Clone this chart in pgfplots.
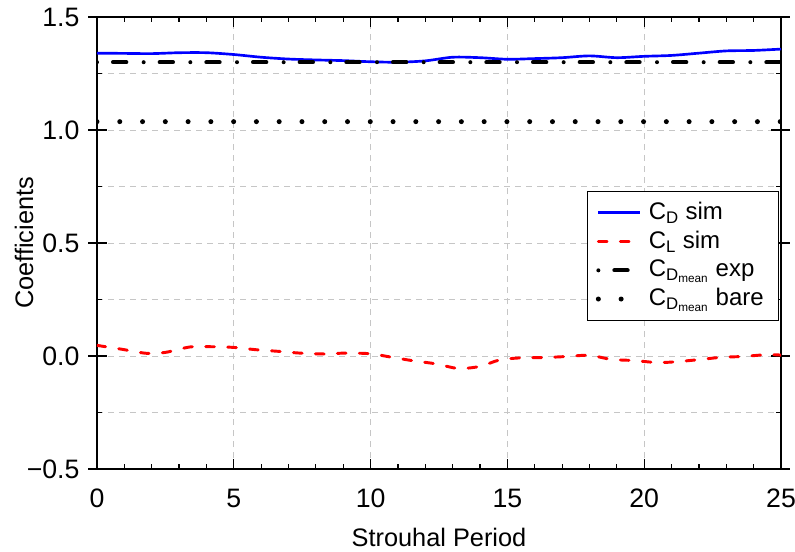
\documentclass[border=0pt]{standalone}
\usepackage{fontspec}
\setmainfont{Liberation Sans}
\usepackage{pgfplots}
\pgfplotsset{compat=1.18}
\begin{document}
\fontsize{18}{21}\selectfont
\begin{tikzpicture}
\useasboundingbox (-72.75pt,-61.5pt) rectangle (523.5pt,351.75pt);
\begin{axis}[
  at={(0,0)}, anchor=south west,
  scale only axis, width=513pt, height=339pt,
  xmin=0, xmax=25, ymin=-0.5, ymax=1.5,
  xtick={0,5,...,25}, minor x tick num=4,
  ytick={-0.5,0,0.5,1,1.5}, yticklabels={−0.5,0.0,0.5,1.0,1.5},
  minor y tick num=1,
  tick align=inside, major tick length=7.5pt, minor tick length=3.75pt,
  tick style={black, line width=0.9pt},
  extra y ticks={-0.5,0,0.5,1,1.5}, extra y tick labels={},
  extra y tick style={tick align=outside, major tick length=6.5pt, ymajorgrids=false},
  axis line style={line width=1.3pt},
  xmajorgrids, ymajorgrids, yminorgrids,
  grid style={gray!45, line width=0.75pt, dash pattern=on 4.5pt off 3.75pt},
  minor grid style={gray!45, line width=0.75pt, dash pattern=on 4.5pt off 3.75pt},
  /pgf/number format/assume math mode=true,
  tick label style={font=\fontsize{20}{23}\selectfont},
  xticklabel style={inner sep=0pt, anchor=center, yshift=-22pt},
  yticklabel style={inner sep=0pt, anchor=east, xshift=-13pt},
  label style={font=\fontsize{19}{22}\selectfont},
  xlabel={Strouhal Period},
  ylabel={Coefficients},
  xlabel style={at={(axis description cs:0.5,-0.1704)}, anchor=base, inner sep=0pt},
  ylabel style={at={(axis description cs:-0.1067,0.5)}, anchor=center, inner sep=0pt},
  legend style={at={(0.997,0.615)}, anchor=north east, draw=black, line width=0.75pt,
    font=\fontsize{18}{20}\selectfont, inner xsep=6pt, inner ysep=6pt, row sep=2pt,
    nodes={inner xsep=5pt}},
  legend cell align=left,
  legend image code/.code={\draw[#1] (0pt,0pt) -- (31pt,0pt);},
]
\addplot[blue, line width=2pt, smooth] coordinates {
(0,1.340) (1,1.339) (2,1.338) (3,1.342) (4,1.342) (5,1.334) (6,1.322) (7,1.314)
(8,1.310) (9,1.307) (10,1.302) (11,1.300) (12,1.306) (13,1.322) (14,1.320) (15,1.313)
(16,1.316) (17,1.320) (18,1.328) (19,1.320) (20,1.326) (21,1.330) (22,1.340) (23,1.350)
(24,1.352) (25,1.358)};
\addlegendentry{C\textsubscript{D} sim}
\addplot[red, line width=2.2pt, smooth, line cap=round, dash pattern=on 6.5pt off 10pt] coordinates {
(0,0.047) (0.9,0.030) (1.8,0.012) (2.5,0.016) (3.4,0.040) (4.2,0.041) (5,0.038) (5.8,0.028)
(6.7,0.020) (7.4,0.013) (8.3,0.009) (9.1,0.013) (10,0.010) (10.7,-0.004) (11.5,-0.020)
(12.4,-0.035) (13.2,-0.055) (14,-0.046) (14.7,-0.018) (15.5,-0.008) (16.3,-0.007)
(17.2,-0.002) (18,0.003) (18.8,-0.015) (19.6,-0.020) (20.5,-0.029) (21.2,-0.025)
(22,-0.016) (22.8,-0.006) (23.6,-0.002) (24.5,0.006) (25,0.004)};
\addlegendentry{C\textsubscript{L} sim}
\addplot[black, line width=3pt, line cap=round, dash pattern=on 0pt off 12pt on 10pt off 13pt] coordinates {(0,1.30) (25,1.30)};
\addlegendentry{C\textsubscript{D\textsubscript{mean}} exp}
\addplot[black, line width=3.75pt, line cap=round, dash pattern=on 0pt off 17.08pt] coordinates {(0,1.037) (25,1.037)};
\addlegendentry{C\textsubscript{D\textsubscript{mean}} bare}
\end{axis}
\end{tikzpicture}
\end{document}
